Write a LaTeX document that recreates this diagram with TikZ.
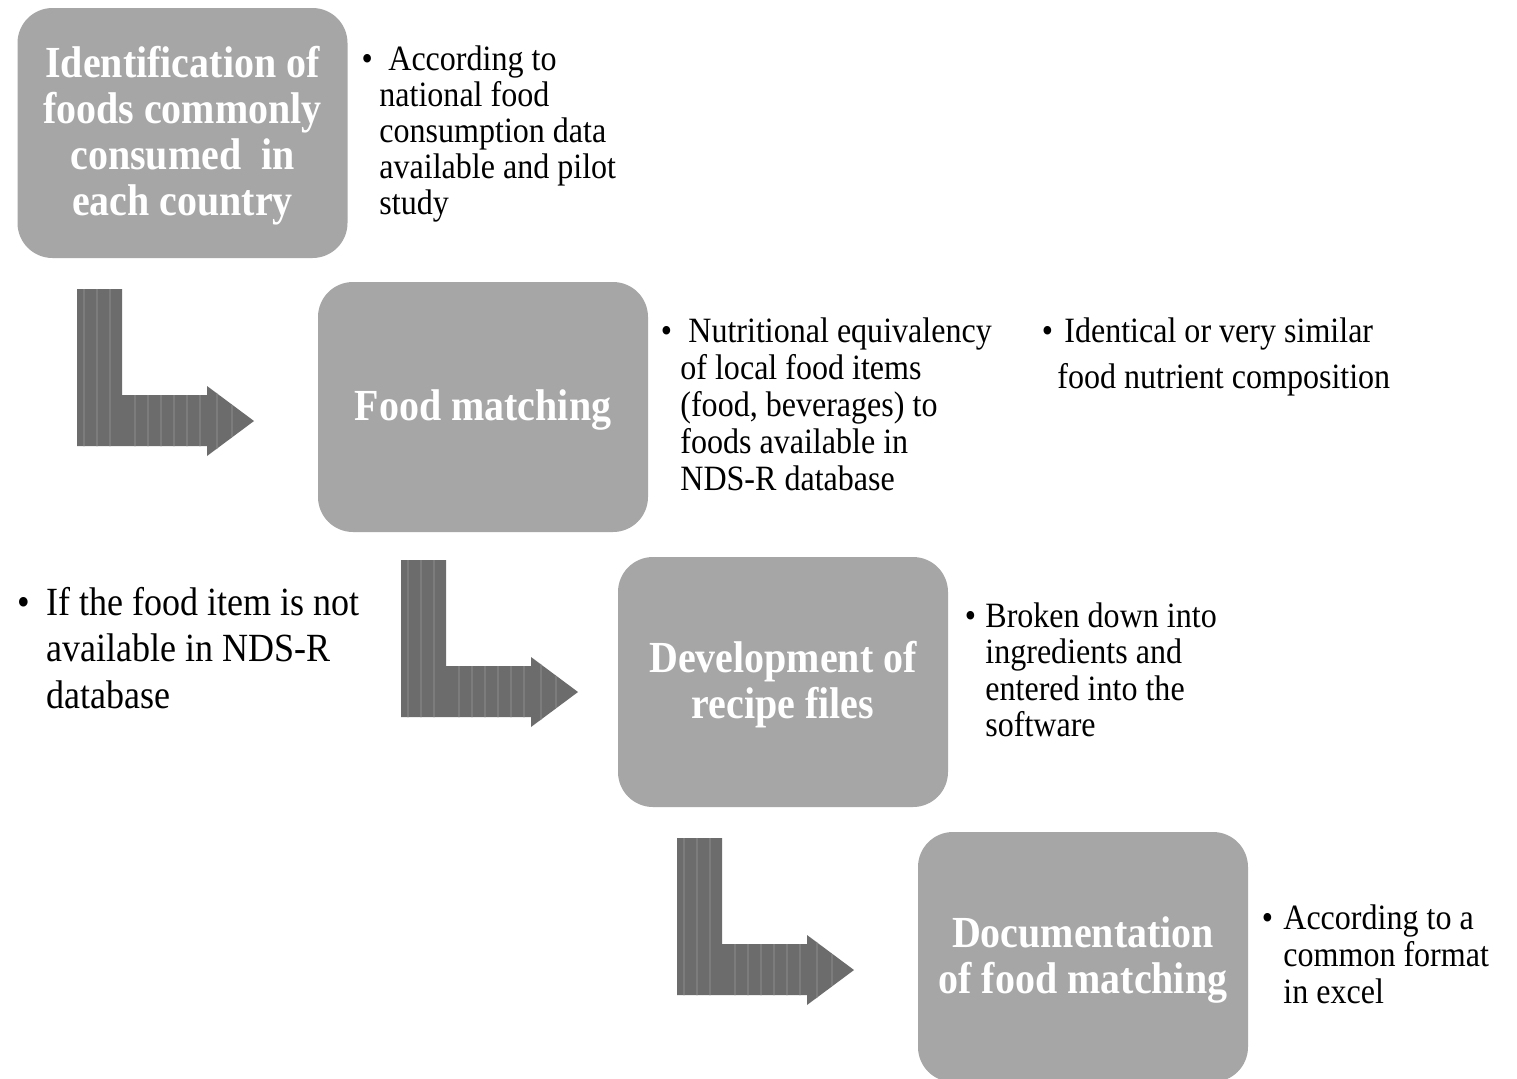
\documentclass[tikz,border=0pt]{standalone}
\usepackage{fontspec}
\setmainfont{Liberation Serif}[FakeStretch=0.9]
\definecolor{boxgray}{RGB}{166,166,166}
\definecolor{arrowgray}{RGB}{108,108,108}
\definecolor{stripegray}{RGB}{124,124,124}
\newcommand\toppad{\rule{0pt}{18pt}}
\begin{document}
\begin{tikzpicture}[x=0.5pt,y=-0.5pt,
  stepbox/.style={fill=boxgray, rounded corners=17.5pt, minimum width=165pt,
    minimum height=125pt, align=center, text=white, inner sep=0pt,
    font=\bfseries\fontsize{22.2}{23}\selectfont},
  note/.style={anchor=base west, inner sep=0pt, text width=#1, align=flush left},
  bentarrow/.pic={
    \fill[arrowgray] (0,0) -- (45,0) -- (45,106) -- (130,106) -- (130,97)
      -- (177,132) -- (130,167) -- (130,157) -- (0,157) -- cycle;
    \begin{scope}
      \clip (0,0) -- (45,0) -- (45,106) -- (130,106) -- (130,97)
        -- (177,132) -- (130,167) -- (130,157) -- (0,157) -- cycle;
      \foreach \sx in {7,20,33,58,71,84,97,110,123,140,155}
        \draw[stripegray, line width=0.7pt] (\sx,0) -- (\sx,167);
    \end{scope}
  }]
\useasboundingbox (0,0) rectangle (1517,1078);
\fill[white] (0,0) rectangle (1517,1078);

% step boxes
\node[stepbox] (s1) at (182.5,133) {\toppad Identification of\\foods commonly\\consumed~ in\\each country};
\node[stepbox] (s2) at (483,407) {\toppad Food matching};
\node[stepbox] (s3) at (783,682) {\toppad Development of\\recipe files};
\node[stepbox] (s4) at (1083,957) {\toppad Documentation\\of food matching};

% bent arrows
\pic at (77,289) {bentarrow};
\pic at (401,560) {bentarrow};
\pic at (677,838) {bentarrow};

% notes
\node[note=220pt, font=\fontsize{17.8}{18}\selectfont] (n1) at (379,70)
  {\llap{\textbullet\hspace{3.3pt}}\hspace{4.5pt}According to\\national food\\consumption data\\available and pilot\\study};
\node[note=220pt, font=\fontsize{17.8}{18.5}\selectfont] (n2) at (680,342)
  {\llap{\textbullet\hspace{4.2pt}}\hspace{4pt}Nutritional equivalency\\of local food items\\(food, beverages) to\\foods available in\\NDS-R database};
\node[note=220pt, font=\fontsize{17.8}{23.25}\selectfont] (n3) at (1057,342)
  {\llap{\textbullet\hspace{2.2pt}}\hspace{3.5pt}Identical or very similar\\food nutrient composition};
\node[note=220pt, font=\fontsize{20}{23.25}\selectfont] (n4) at (46,615)
  {\llap{\textbullet\hspace{8pt}}If the food item is not\\available in NDS-R\\database};
\node[note=220pt, font=\fontsize{17.8}{18.3}\selectfont] (n5) at (985,627)
  {\llap{\textbullet\hspace{4.7pt}}Broken down into\\ingredients and\\entered into the\\software};
\node[note=220pt, font=\fontsize{17.8}{18.5}\selectfont] (n6) at (1283,929)
  {\llap{\textbullet\hspace{5.2pt}}According to a\\common format\\in excel};
\end{tikzpicture}
\end{document}
